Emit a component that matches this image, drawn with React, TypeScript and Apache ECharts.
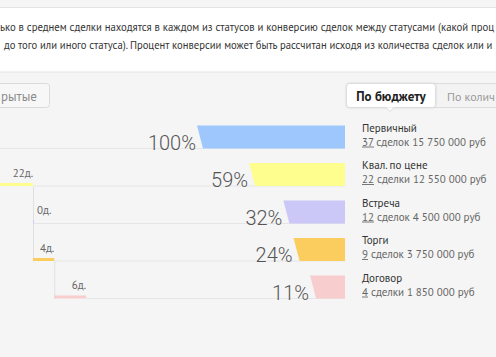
import React, { useEffect, useRef } from "react";
import * as echarts from "echarts";

// ---- data ----
const stageNames = ["Первичный", "Квал. по цене", "Встреча", "Торги", "Договор"];
const conversionPct = [100, 59, 32, 24, 11];
const dealCounts = [37, 22, 12, 9, 4];
const dealWords = ["сделок", "сделки", "сделок", "сделок", "сделки"];
const budgetRub = [15750000, 12550000, 4500000, 3750000, 1850000];
const stageColors = ["#9ec8fd", "#fefe8f", "#cbc8f8", "#fbcd5e", "#f8cdcd"];
// days spent in each stage (first stage lies outside the visible area)
const stageDays: (number | null)[] = [null, 22, 0, 4, 6];

const introLine1 =
  "ько в среднем сделки находятся в каждом из статусов и конверсию сделок между статусами (какой проц";
const introLine2 =
  "до того или иного статуса). Процент конверсии может быть рассчитан исходя из количества сделок или и";
const tabLeft = "рытые";
const tabActive = "По бюджету";
const tabRight = "По колич";

// ---- layout ----
const W = 496;
const H = 357;
const UI_FONT = "'PT Sans', 'Noto Sans', sans-serif";
const PCT_FONT = "Roboto, 'Open Sans', sans-serif";
const GRID_TOP = 111.5;
const GRID_H = 187.5;
const BAR_LEFT = 197;
const BAR_W = 148;
const BAR_H = 23;
const SLANT = 6;
const PCT_MIN = -16.5;

const fmt = (n: number) => String(n).replace(/\B(?=(\d{3})+(?!\d))/g, " ");

let measureCtx: CanvasRenderingContext2D | null = null;
function textWidth(t: string, font: string) {
  if (!measureCtx) measureCtx = document.createElement("canvas").getContext("2d");
  if (!measureCtx) return t.length * 6;
  measureCtx.font = font;
  return measureCtx.measureText(t).width;
}
function fitSize(t: string, base: number, avail: number) {
  const w = textWidth(t, `${base}px ${UI_FONT}`);
  return Math.min(base, (base * avail) / w);
}

// cumulative day offsets (start of the 2nd stage = day 0)
const dayStart: number[] = [];
const dayEnd: number[] = [];
{
  let acc = 0;
  stageDays.forEach((d) => {
    dayStart.push(acc);
    if (d !== null) acc += d;
    dayEnd.push(acc);
  });
}

export default function App() {
  const ref = useRef<HTMLDivElement>(null);
  useEffect(() => {
    if (!ref.current) return;
    const chart = echarts.init(ref.current, undefined, { renderer: "svg" });
    const barRightPx = BAR_LEFT + BAR_W;
    const l1Size = fitSize(introLine1, 11.5, W - 1);
    const l2Size = fitSize(introLine2, 11.5, W - 5);
    const tabRSize = fitSize(tabRight, 13, W - 448);

    const option: any = {
      animation: false,
      backgroundColor: "#f5f5f5",
      grid: [
        { left: BAR_LEFT, width: BAR_W, top: GRID_TOP, height: GRID_H },
        { left: 0, width: W, top: GRID_TOP, height: GRID_H },
      ],
      xAxis: [
        { type: "value", gridIndex: 0, inverse: true, min: PCT_MIN, max: 100, show: false },
        { type: "value", gridIndex: 1, min: 15.77, max: 109.35, show: false },
      ],
      yAxis: [
        { type: "category", gridIndex: 0, inverse: true, data: stageNames, show: false },
        { type: "category", gridIndex: 1, inverse: true, data: stageNames, show: false },
      ],
      graphic: [
        {
          type: "rect",
          shape: { x: -2, y: 7.5, width: W + 4, height: 64.5 },
          style: { fill: "#ffffff", stroke: "#e3e3e3", lineWidth: 1 },
          z: 0,
        },
        {
          type: "text",
          style: { text: introLine1, x: 0, y: 26.5, font: `${l1Size}px ${UI_FONT}`, fill: "#333", verticalAlign: "middle" },
        },
        {
          type: "text",
          style: { text: introLine2, x: 4, y: 44.5, font: `${l2Size}px ${UI_FONT}`, fill: "#333", verticalAlign: "middle" },
        },
        {
          type: "rect",
          shape: { x: -6.5, y: 83.5, width: 56, height: 24, r: 3 },
          style: { fill: "#f7f7f7", stroke: "#dadada", lineWidth: 1 },
        },
        {
          type: "text",
          style: { text: tabLeft, x: 1, y: 96, font: `13px ${UI_FONT}`, fill: "#8c8c8c", verticalAlign: "middle" },
        },
        {
          type: "rect",
          shape: { x: 346.5, y: 83.5, width: 170, height: 24, r: 3 },
          style: { fill: "#f3f3f3", stroke: "#dcdcdc", lineWidth: 1 },
        },
        {
          type: "rect",
          shape: { x: 346.5, y: 83.5, width: 89, height: 24, r: 3 },
          style: { fill: "#ffffff", stroke: "#dcdcdc", lineWidth: 1, shadowBlur: 2, shadowColor: "rgba(0,0,0,0.12)" },
        },
        {
          type: "polygon",
          shape: { points: [[386, 107.5], [394, 107.5], [390, 111.5]] },
          style: { fill: "#ffffff", stroke: "#dcdcdc", lineWidth: 1 },
        },
        {
          type: "rect",
          shape: { x: 386.5, y: 106, width: 7, height: 1.6 },
          style: { fill: "#ffffff" },
        },
        {
          type: "text",
          style: { text: tabActive, x: 391, y: 96, align: "center", font: `bold 13px ${UI_FONT}`, fill: "#222", verticalAlign: "middle" },
        },
        {
          type: "text",
          style: { text: tabRight, x: 447, y: 96, font: `${tabRSize}px ${UI_FONT}`, fill: "#9a9a9a", verticalAlign: "middle" },
        },
      ],
      series: [
        {
          type: "custom",
          xAxisIndex: 1,
          yAxisIndex: 1,
          z: 1,
          data: stageNames.map((_, i) => [dayStart[i], dayEnd[i], i]),
          encode: { x: [0, 1], y: 2 },
          renderItem: (params: any, api: any) => {
            const i = api.value(2);
            const s = api.coord([api.value(0), i]);
            const e = api.coord([api.value(1), i]);
            const bandH = api.size([0, 1])[1];
            const yb = s[1] + bandH / 2;
            const children: any[] = [];
            children.push({
              type: "line",
              shape: { x1: e[0], y1: yb - 0.5, x2: barRightPx, y2: yb - 0.5 },
              style: { stroke: "#e6e6e6", lineWidth: 1 },
            });
            const d = stageDays[i];
            if (d !== null) {
              children.push({
                type: "line",
                shape: { x1: s[0] + 0.5, y1: yb - bandH, x2: s[0] + 0.5, y2: yb },
                style: { stroke: "#e0e0e0", lineWidth: 1 },
              });
              children.push({
                type: "rect",
                shape: { x: s[0], y: yb - 3.5, width: Math.max(e[0] - s[0], 1), height: 3 },
                style: { fill: stageColors[i] },
              });
              const label = `${d}д.`;
              const lw = textWidth(label, `11px ${UI_FONT}`);
              const fits = e[0] - s[0] > lw + 2;
              children.push({
                type: "text",
                style: {
                  text: label,
                  x: fits ? e[0] : s[0] + 4,
                  y: yb - 14,
                  align: fits ? "right" : "left",
                  verticalAlign: "middle",
                  font: `11px ${UI_FONT}`,
                  fill: "#666",
                },
              });
            }
            return { type: "group", children };
          },
        },
        {
          type: "custom",
          xAxisIndex: 0,
          yAxisIndex: 0,
          z: 2,
          data: conversionPct.map((p, i) => [p, i]),
          encode: { x: 0, y: 1 },
          renderItem: (params: any, api: any) => {
            const i = api.value(1);
            const p = api.value(0);
            const tl = api.coord([p, i]);
            const right = api.coord([PCT_MIN, i])[0];
            const bandH = api.size([0, 1])[1];
            const bottom = tl[1] + bandH / 2 - 0.5;
            const top = bottom - BAR_H;
            const nameFont = `11px ${UI_FONT}`;
            const countText = String(dealCounts[i]);
            const cw = textWidth(countText, nameFont);
            const tx = right + 17;
            return {
              type: "group",
              children: [
                {
                  type: "polygon",
                  shape: { points: [[tl[0], top], [right, top], [right, bottom], [tl[0] + SLANT, bottom]] },
                  style: { fill: stageColors[i] },
                },
                {
                  type: "text",
                  style: {
                    text: `${p}%`,
                    x: tl[0] - 1,
                    y: bottom + 4,
                    align: "right",
                    verticalAlign: "bottom",
                    font: `300 20px ${PCT_FONT}`,
                    fill: "#555",
                  },
                },
                {
                  type: "text",
                  style: { text: stageNames[i], x: tx, y: bottom - 21, verticalAlign: "middle", font: nameFont, fill: "#333" },
                },
                {
                  type: "text",
                  style: {
                    text: `${countText} ${dealWords[i]} ${fmt(budgetRub[i])} руб`,
                    x: tx,
                    y: bottom - 7,
                    verticalAlign: "middle",
                    font: nameFont,
                    fill: "#666",
                  },
                },
                {
                  type: "line",
                  shape: { x1: tx, y1: bottom - 1.5, x2: tx + cw, y2: bottom - 1.5 },
                  style: { stroke: "#777", lineWidth: 1 },
                },
              ],
            };
          },
        },
      ],
    };
    chart.setOption(option);
    return () => chart.dispose();
  }, []);
  return <div ref={ref} style={{ position: "fixed", left: 0, top: 0, width: W, height: H }} />;
}
